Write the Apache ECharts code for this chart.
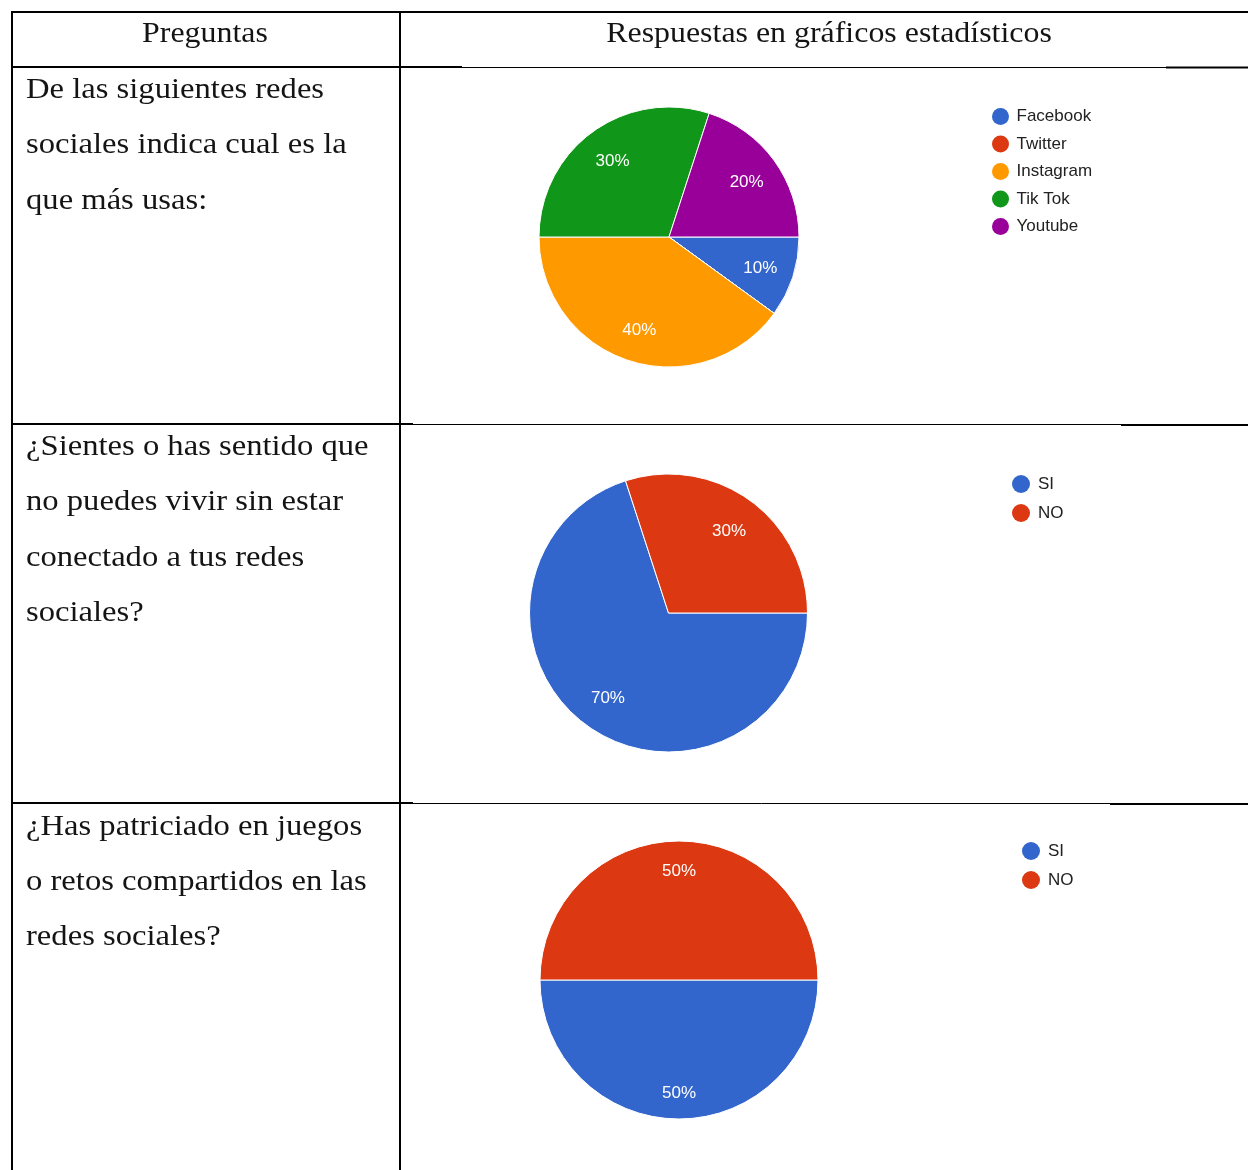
<!DOCTYPE html>
<html>
<head>
<meta charset="utf-8">
<title>Redes sociales</title>
<script src="https://cdn.jsdelivr.net/npm/echarts@6/dist/echarts.min.js"></script>
<style>
  html, body { margin: 0; padding: 0; background: #ffffff; }
  #chart { width: 1248px; height: 1170px; }
</style>
</head>
<body>
<div id="chart"></div>
<script>
// Column headers
const headers = ['Preguntas', 'Respuestas en gráficos estadísticos'];

// Question texts, one entry per printed line
const pregunta1 = ['De las siguientes redes', 'sociales indica cual es la', 'que más usas:'];
const pregunta2 = ['¿Sientes o has sentido que', 'no puedes vivir sin estar', 'conectado a tus redes', 'sociales?'];
const pregunta3 = ['¿Has patriciado en juegos', 'o retos compartidos en las', 'redes sociales?'];

// Answers (percent of respondents)
const redesNames = ['Facebook', 'Twitter', 'Instagram', 'Tik Tok', 'Youtube'];
const redesValues = [10, 0, 40, 30, 20];

const conexionNames = ['SI', 'NO'];
const conexionValues = [70, 30];

const retosNames = ['SI', 'NO'];
const retosValues = [50, 50];

const palette = ['#3366cc', '#dc3912', '#ff9900', '#109618', '#990099'];

const SERIF = '"Liberation Serif", "Times New Roman", serif';
const SANS = '"Liberation Sans", Arial, sans-serif';

const toData = (names, values) => names.map((n, i) => ({ name: n, value: values[i] }));

// ---- table grid ----
const lines = [];
function hLine(x1, x2, y, w) {
  lines.push({ type: 'line', silent: true, shape: { x1: x1, y1: y, x2: x2, y2: y }, style: { stroke: '#000', lineWidth: w } });
}
function vLine(x, y1, y2, w) {
  lines.push({ type: 'line', silent: true, shape: { x1: x, y1: y1, x2: x, y2: y2 }, style: { stroke: '#000', lineWidth: w } });
}
hLine(11, 1248, 12, 2);
vLine(12, 11, 1170, 2);
vLine(400, 11, 1170, 2);
// header separator
hLine(11, 462, 67, 2); hLine(462, 1166, 67.5, 1); hLine(1166, 1248, 67.5, 2);
// row separators
hLine(11, 413, 424, 2); hLine(413, 1121, 424.5, 1); hLine(1121, 1248, 425, 2);
hLine(11, 413, 803, 2); hLine(413, 1110, 803.5, 1); hLine(1110, 1248, 804, 2);

// ---- table text ----
const texts = [];
function serifText(str, x, y, align, sx) {
  texts.push({
    type: 'text', silent: true, x: x, y: y, scaleX: sx,
    style: { text: str, font: '29px ' + SERIF, fill: '#141414', align: align, verticalAlign: 'middle' }
  });
}
serifText(headers[0], 205, 34, 'center', 1.1);
serifText(headers[1], 829, 34, 'center', 1.1);
pregunta1.forEach((t, i) => serifText(t, 26, 90 + i * 55.5, 'left', 1.125));
pregunta2.forEach((t, i) => serifText(t, 26, 447 + i * 55.5, 'left', 1.125));
pregunta3.forEach((t, i) => serifText(t, 26, 827 + i * 55, 'left', 1.125));

// ---- pies ----
// Each chart is a visible pie plus a transparent ring that carries the percent labels
function piePair(names, values, center, r, labelRing) {
  const data = toData(names, values);
  const base = {
    type: 'pie', center: center, startAngle: 0, clockwise: true,
    avoidLabelOverlap: false, percentPrecision: 0, data: data
  };
  const body = Object.assign({}, base, {
    radius: [0, r],
    itemStyle: { borderColor: '#ffffff', borderWidth: 1 },
    label: { show: false }, labelLine: { show: false },
    emphasis: { scale: false }
  });
  const labels = Object.assign({}, base, {
    radius: labelRing, silent: true, minShowLabelAngle: 1,
    itemStyle: { color: 'rgba(0,0,0,0)', borderWidth: 0 },
    label: { show: true, position: 'inside', formatter: '{d}%', offset: [0, 2], color: '#ffffff', fontSize: 17, fontFamily: SANS },
    labelLine: { show: false }
  });
  return [body, labels];
}

const p1 = piePair(redesNames, redesValues, [669, 237], 130, [58, 128]);
const p2 = piePair(conexionNames, conexionValues, [668.5, 613], 139, [65, 135]);
const p3 = piePair(retosNames, retosValues, [679, 980], 139, [80, 136]);

function legendAt(names, left, top, w, h, gap) {
  return {
    data: names, orient: 'vertical', left: left, top: top, padding: 0,
    icon: 'circle', itemWidth: w, itemHeight: h, itemGap: gap,
    selectedMode: false,
    itemStyle: { borderWidth: 0 },
    textStyle: { fontSize: 17, fontFamily: SANS, color: '#222222' }
  };
}

const chart = echarts.init(document.getElementById('chart'), null, { renderer: 'canvas' });
chart.setOption({
  animation: false,
  color: palette,
  legend: [
    legendAt(redesNames, 992, 108, 22, 17, 10.5),
    legendAt(conexionNames, 1012, 475, 24, 18, 11),
    legendAt(retosNames, 1022, 842, 24, 18, 11)
  ],
  series: [p1[0], p2[0], p3[0], p1[1], p2[1], p3[1]],
  graphic: lines.concat(texts)
});
</script>
</body>
</html>
